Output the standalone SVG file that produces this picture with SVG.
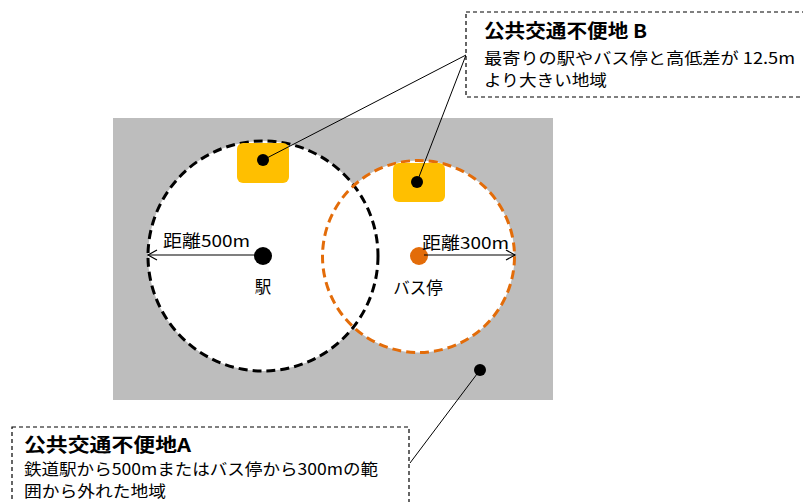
<svg xmlns="http://www.w3.org/2000/svg" width="803" height="502" viewBox="0 0 803 502">
<defs>
<style>
text{font-family:"Noto Sans CJK JP","Noto Sans",sans-serif;fill:#000}
.t{font-size:16px}
.s{font-size:16.5px}
.b{font-size:19px;font-weight:bold}
.box{fill:#fff;stroke:#000;stroke-width:1.2;stroke-dasharray:4 3}
.lead{stroke:#000;stroke-width:1;fill:none}
.dot{fill:#000}
.ylw{fill:#FFBF00}
</style>
<marker id="ah" markerWidth="12" markerHeight="12" refX="10" refY="6" orient="auto" markerUnits="userSpaceOnUse">
<path d="M1,1 L10,6 L1,11" fill="none" stroke="#000" stroke-width="1.2"/>
</marker>
</defs>
<rect width="803" height="502" fill="#fff"/>
<g id="area">
<rect x="113" y="118" width="440" height="282" fill="#BDBDBD"/>
</g>
<g id="station-area">
<circle cx="263" cy="256" r="115" fill="#fff"/>
</g>
<g id="bus-area">
<circle cx="418.5" cy="256.5" r="96" fill="#fff"/>
</g>
<g id="circles">
<circle cx="263" cy="256" r="115" fill="none" stroke="#000" stroke-width="3" stroke-dasharray="9 5"/>
<circle cx="418.5" cy="256.5" r="96" fill="none" stroke="#E36C09" stroke-width="3" stroke-dasharray="9 5"/>
</g>
<g id="hill1">
<rect class="ylw" x="237" y="143" width="52" height="40" rx="6"/>
</g>
<g id="hill2">
<rect class="ylw" x="393" y="163" width="52" height="39" rx="6"/>
</g>
<g id="station">
<circle class="dot" cx="263" cy="256" r="9"/>
<text class="s" x="263" y="293" text-anchor="middle">駅</text>
</g>
<g id="bus">
<circle cx="419" cy="256" r="9" fill="#E36C09"/>
<text class="s" x="418" y="294" text-anchor="middle">バス停</text>
</g>
<g id="connectors">
<line x1="256" y1="255" x2="148" y2="255" stroke="#000" stroke-width="1.2" marker-end="url(#ah)"/>
<line x1="424" y1="255" x2="515" y2="255" stroke="#000" stroke-width="1.2" marker-end="url(#ah)"/>
<line class="lead" x1="263" y1="160" x2="466" y2="55"/>
<line class="lead" x1="417" y1="182" x2="466" y2="55"/>
<line class="lead" x1="480" y1="370" x2="410" y2="463"/>
</g>
<g id="labels">
<text class="s" x="163" y="247" textLength="87" lengthAdjust="spacingAndGlyphs">距離500m</text>
<text class="s" x="422" y="249" textLength="87" lengthAdjust="spacingAndGlyphs">距離300m</text>
</g>
<g id="points">
<circle class="dot" cx="263" cy="160" r="6"/>
<circle class="dot" cx="417" cy="182" r="6"/>
<circle class="dot" cx="480" cy="370" r="6"/>
</g>
<g id="boxB">
<rect class="box" x="466" y="12" width="338" height="85"/>
<text class="b" x="484" y="38" textLength="163" lengthAdjust="spacingAndGlyphs">公共交通不便地 B</text>
<text class="t" x="484" y="64" textLength="311" lengthAdjust="spacingAndGlyphs">最寄りの駅やバス停と高低差が 12.5m</text>
<text class="t" x="484" y="86" textLength="123" lengthAdjust="spacingAndGlyphs">より大きい地域</text>
</g>
<g id="boxA">
<rect class="box" x="12" y="427" width="397" height="80"/>
<text class="b" x="24" y="452" textLength="167" lengthAdjust="spacingAndGlyphs">公共交通不便地A</text>
<text class="t" x="24" y="475" textLength="354" lengthAdjust="spacingAndGlyphs">鉄道駅から500mまたはバス停から300mの範</text>
<text class="t" x="24" y="497" textLength="142" lengthAdjust="spacingAndGlyphs">囲から外れた地域</text>
</g>
</svg>
